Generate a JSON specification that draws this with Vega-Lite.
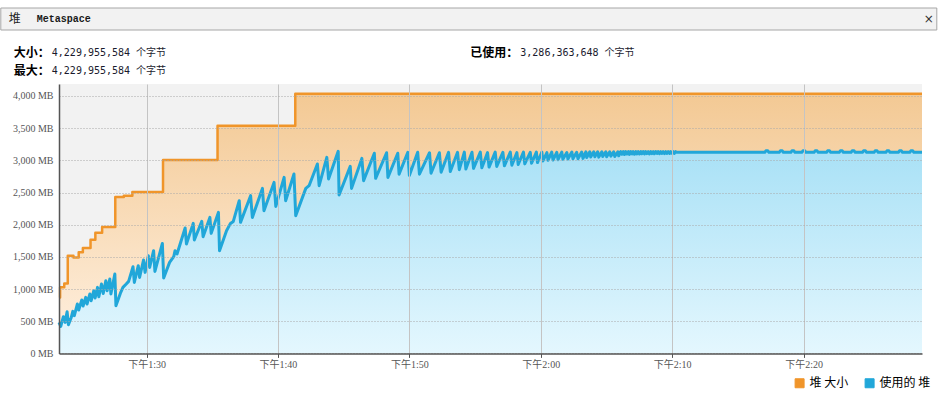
{
  "$schema": "https://vega.github.io/schema/vega-lite/v6.json",
  "background": "white",
  "padding": {"left": 0, "top": 7, "right": 0, "bottom": 0},
  "spacing": 4,
  "columns": 1,
  "align": "none",
  "resolve": {"scale": {"color": "independent"}, "legend": {"color": "independent"}},
  "config": {"view": {"stroke": null}},
  "datasets": {
    "tabs": [{"tab": "堆"}, {"tab": "Metaspace"}, {"tab": "×"}],
    "header": [
      {"col": "L", "row": "1", "label": "大小：", "value": "4,229,955,584 个字节"},
      {"col": "L", "row": "2", "label": "最大：", "value": "4,229,955,584 个字节"},
      {"col": "R", "row": "1", "label": "已使用：", "value": "3,286,363,648 个字节"}
    ],
    "heap": [
      {"t": "2023-05-10T13:23:20", "mb": 870},
      {"t": "2023-05-10T13:23:25", "mb": 1026},
      {"t": "2023-05-10T13:23:44", "mb": 1088},
      {"t": "2023-05-10T13:24:00", "mb": 1518},
      {"t": "2023-05-10T13:24:26", "mb": 1492},
      {"t": "2023-05-10T13:24:50", "mb": 1570},
      {"t": "2023-05-10T13:25:09", "mb": 1638},
      {"t": "2023-05-10T13:25:44", "mb": 1767},
      {"t": "2023-05-10T13:26:06", "mb": 1876},
      {"t": "2023-05-10T13:26:37", "mb": 1964},
      {"t": "2023-05-10T13:27:37", "mb": 2430},
      {"t": "2023-05-10T13:28:16", "mb": 2451},
      {"t": "2023-05-10T13:28:55", "mb": 2508},
      {"t": "2023-05-10T13:31:15", "mb": 3005},
      {"t": "2023-05-10T13:35:24", "mb": 3538},
      {"t": "2023-05-10T13:41:19", "mb": 4034},
      {"t": "2023-05-10T14:29:01", "mb": 4034}
    ],
    "used": [
      {"t": "2023-05-10T13:23:20", "mb": 482},
      {"t": "2023-05-10T13:23:28", "mb": 420},
      {"t": "2023-05-10T13:23:40", "mb": 570},
      {"t": "2023-05-10T13:23:48", "mb": 482},
      {"t": "2023-05-10T13:23:57", "mb": 648},
      {"t": "2023-05-10T13:24:03", "mb": 446},
      {"t": "2023-05-10T13:24:16", "mb": 559},
      {"t": "2023-05-10T13:24:23", "mb": 653},
      {"t": "2023-05-10T13:24:30", "mb": 586},
      {"t": "2023-05-10T13:24:44", "mb": 768},
      {"t": "2023-05-10T13:24:50", "mb": 674},
      {"t": "2023-05-10T13:25:04", "mb": 830},
      {"t": "2023-05-10T13:25:10", "mb": 737},
      {"t": "2023-05-10T13:25:22", "mb": 870},
      {"t": "2023-05-10T13:25:28", "mb": 768},
      {"t": "2023-05-10T13:25:41", "mb": 923},
      {"t": "2023-05-10T13:25:47", "mb": 819},
      {"t": "2023-05-10T13:25:59", "mb": 974},
      {"t": "2023-05-10T13:26:05", "mb": 861},
      {"t": "2023-05-10T13:26:16", "mb": 1026},
      {"t": "2023-05-10T13:26:22", "mb": 881},
      {"t": "2023-05-10T13:26:34", "mb": 1078},
      {"t": "2023-05-10T13:26:42", "mb": 932},
      {"t": "2023-05-10T13:26:54", "mb": 1130},
      {"t": "2023-05-10T13:27:00", "mb": 974},
      {"t": "2023-05-10T13:27:12", "mb": 1156},
      {"t": "2023-05-10T13:27:17", "mb": 923},
      {"t": "2023-05-10T13:27:35", "mb": 1234},
      {"t": "2023-05-10T13:27:40", "mb": 741},
      {"t": "2023-05-10T13:28:00", "mb": 932},
      {"t": "2023-05-10T13:28:12", "mb": 1026},
      {"t": "2023-05-10T13:28:27", "mb": 1078},
      {"t": "2023-05-10T13:28:38", "mb": 1119},
      {"t": "2023-05-10T13:28:58", "mb": 1347},
      {"t": "2023-05-10T13:29:04", "mb": 1103},
      {"t": "2023-05-10T13:29:22", "mb": 1363},
      {"t": "2023-05-10T13:29:28", "mb": 1181},
      {"t": "2023-05-10T13:29:46", "mb": 1451},
      {"t": "2023-05-10T13:29:53", "mb": 1259},
      {"t": "2023-05-10T13:30:08", "mb": 1518},
      {"t": "2023-05-10T13:30:14", "mb": 1336},
      {"t": "2023-05-10T13:30:32", "mb": 1596},
      {"t": "2023-05-10T13:30:38", "mb": 1274},
      {"t": "2023-05-10T13:31:12", "mb": 1709},
      {"t": "2023-05-10T13:31:18", "mb": 1172},
      {"t": "2023-05-10T13:31:45", "mb": 1414},
      {"t": "2023-05-10T13:32:04", "mb": 1503},
      {"t": "2023-05-10T13:32:10", "mb": 1596},
      {"t": "2023-05-10T13:32:19", "mb": 1545},
      {"t": "2023-05-10T13:32:56", "mb": 1949},
      {"t": "2023-05-10T13:33:02", "mb": 1700},
      {"t": "2023-05-10T13:33:33", "mb": 2020},
      {"t": "2023-05-10T13:33:38", "mb": 1762},
      {"t": "2023-05-10T13:34:12", "mb": 2051},
      {"t": "2023-05-10T13:34:18", "mb": 1814},
      {"t": "2023-05-10T13:34:49", "mb": 2113},
      {"t": "2023-05-10T13:34:55", "mb": 1865},
      {"t": "2023-05-10T13:35:28", "mb": 2191},
      {"t": "2023-05-10T13:35:33", "mb": 1596},
      {"t": "2023-05-10T13:36:05", "mb": 1907},
      {"t": "2023-05-10T13:36:23", "mb": 2020},
      {"t": "2023-05-10T13:36:36", "mb": 2051},
      {"t": "2023-05-10T13:37:03", "mb": 2373},
      {"t": "2023-05-10T13:37:09", "mb": 2036},
      {"t": "2023-05-10T13:37:55", "mb": 2451},
      {"t": "2023-05-10T13:38:03", "mb": 2113},
      {"t": "2023-05-10T13:38:49", "mb": 2564},
      {"t": "2023-05-10T13:38:56", "mb": 2218},
      {"t": "2023-05-10T13:39:42", "mb": 2657},
      {"t": "2023-05-10T13:39:50", "mb": 2284},
      {"t": "2023-05-10T13:40:28", "mb": 2735},
      {"t": "2023-05-10T13:40:35", "mb": 2373},
      {"t": "2023-05-10T13:41:13", "mb": 2788},
      {"t": "2023-05-10T13:41:21", "mb": 2140},
      {"t": "2023-05-10T13:42:07", "mb": 2564},
      {"t": "2023-05-10T13:42:22", "mb": 2606},
      {"t": "2023-05-10T13:43:00", "mb": 2943},
      {"t": "2023-05-10T13:43:08", "mb": 2606},
      {"t": "2023-05-10T13:43:43", "mb": 3046},
      {"t": "2023-05-10T13:43:51", "mb": 2710},
      {"t": "2023-05-10T13:44:35", "mb": 3140},
      {"t": "2023-05-10T13:44:39", "mb": 2461},
      {"t": "2023-05-10T13:45:30", "mb": 2906},
      {"t": "2023-05-10T13:45:36", "mb": 2564},
      {"t": "2023-05-10T13:46:23", "mb": 3030},
      {"t": "2023-05-10T13:46:31", "mb": 2684},
      {"t": "2023-05-10T13:47:20", "mb": 3110},
      {"t": "2023-05-10T13:47:26", "mb": 2720},
      {"t": "2023-05-10T13:48:16", "mb": 3118},
      {"t": "2023-05-10T13:48:22", "mb": 2735},
      {"t": "2023-05-10T13:49:07", "mb": 3110},
      {"t": "2023-05-10T13:49:13", "mb": 2785},
      {"t": "2023-05-10T13:49:53", "mb": 3125},
      {"t": "2023-05-10T13:50:00", "mb": 2765},
      {"t": "2023-05-10T13:50:38", "mb": 3125},
      {"t": "2023-05-10T13:50:46", "mb": 2785},
      {"t": "2023-05-10T13:51:32", "mb": 3118},
      {"t": "2023-05-10T13:51:39", "mb": 2800},
      {"t": "2023-05-10T13:52:17", "mb": 3118},
      {"t": "2023-05-10T13:52:25", "mb": 2815},
      {"t": "2023-05-10T13:52:59", "mb": 3125},
      {"t": "2023-05-10T13:53:07", "mb": 2825},
      {"t": "2023-05-10T13:53:40", "mb": 3125},
      {"t": "2023-05-10T13:53:48", "mb": 2855},
      {"t": "2023-05-10T13:54:11", "mb": 3128},
      {"t": "2023-05-10T13:54:18", "mb": 2865},
      {"t": "2023-05-10T13:54:46", "mb": 3125},
      {"t": "2023-05-10T13:54:53", "mb": 2875},
      {"t": "2023-05-10T13:55:24", "mb": 3128},
      {"t": "2023-05-10T13:55:31", "mb": 2885},
      {"t": "2023-05-10T13:55:57", "mb": 3120},
      {"t": "2023-05-10T13:56:04", "mb": 2895},
      {"t": "2023-05-10T13:56:32", "mb": 3128},
      {"t": "2023-05-10T13:56:39", "mb": 2905},
      {"t": "2023-05-10T13:57:07", "mb": 3125},
      {"t": "2023-05-10T13:57:14", "mb": 2915},
      {"t": "2023-05-10T13:57:41", "mb": 3128},
      {"t": "2023-05-10T13:57:48", "mb": 2925},
      {"t": "2023-05-10T13:58:11", "mb": 3120},
      {"t": "2023-05-10T13:58:17", "mb": 2935},
      {"t": "2023-05-10T13:58:41", "mb": 3128},
      {"t": "2023-05-10T13:58:47", "mb": 2945},
      {"t": "2023-05-10T13:59:12", "mb": 3125},
      {"t": "2023-05-10T13:59:18", "mb": 2955},
      {"t": "2023-05-10T13:59:40", "mb": 3128},
      {"t": "2023-05-10T13:59:45", "mb": 2965},
      {"t": "2023-05-10T14:00:05", "mb": 3128},
      {"t": "2023-05-10T14:00:10", "mb": 2990},
      {"t": "2023-05-10T14:00:28", "mb": 3120},
      {"t": "2023-05-10T14:00:33", "mb": 3000},
      {"t": "2023-05-10T14:00:50", "mb": 3128},
      {"t": "2023-05-10T14:00:56", "mb": 3005},
      {"t": "2023-05-10T14:01:13", "mb": 3124},
      {"t": "2023-05-10T14:01:19", "mb": 3010},
      {"t": "2023-05-10T14:01:36", "mb": 3128},
      {"t": "2023-05-10T14:01:41", "mb": 3015},
      {"t": "2023-05-10T14:01:59", "mb": 3120},
      {"t": "2023-05-10T14:02:04", "mb": 3020},
      {"t": "2023-05-10T14:02:22", "mb": 3128},
      {"t": "2023-05-10T14:02:27", "mb": 3025},
      {"t": "2023-05-10T14:02:44", "mb": 3124},
      {"t": "2023-05-10T14:02:50", "mb": 3025},
      {"t": "2023-05-10T14:03:07", "mb": 3128},
      {"t": "2023-05-10T14:03:13", "mb": 3030},
      {"t": "2023-05-10T14:03:26", "mb": 3132},
      {"t": "2023-05-10T14:03:30", "mb": 3045},
      {"t": "2023-05-10T14:03:44", "mb": 3132},
      {"t": "2023-05-10T14:03:48", "mb": 3050},
      {"t": "2023-05-10T14:04:02", "mb": 3132},
      {"t": "2023-05-10T14:04:07", "mb": 3055},
      {"t": "2023-05-10T14:04:20", "mb": 3132},
      {"t": "2023-05-10T14:04:25", "mb": 3050},
      {"t": "2023-05-10T14:04:39", "mb": 3132},
      {"t": "2023-05-10T14:04:43", "mb": 3060},
      {"t": "2023-05-10T14:04:57", "mb": 3132},
      {"t": "2023-05-10T14:05:01", "mb": 3055},
      {"t": "2023-05-10T14:05:15", "mb": 3132},
      {"t": "2023-05-10T14:05:20", "mb": 3065},
      {"t": "2023-05-10T14:05:33", "mb": 3132},
      {"t": "2023-05-10T14:05:38", "mb": 3060},
      {"t": "2023-05-10T14:05:52", "mb": 3132},
      {"t": "2023-05-10T14:05:56", "mb": 3070},
      {"t": "2023-05-10T14:06:05", "mb": 3135},
      {"t": "2023-05-10T14:06:11", "mb": 3095},
      {"t": "2023-05-10T14:06:17", "mb": 3135},
      {"t": "2023-05-10T14:06:22", "mb": 3090},
      {"t": "2023-05-10T14:06:28", "mb": 3135},
      {"t": "2023-05-10T14:06:34", "mb": 3098},
      {"t": "2023-05-10T14:06:40", "mb": 3135},
      {"t": "2023-05-10T14:06:45", "mb": 3092},
      {"t": "2023-05-10T14:06:51", "mb": 3135},
      {"t": "2023-05-10T14:06:57", "mb": 3100},
      {"t": "2023-05-10T14:07:02", "mb": 3135},
      {"t": "2023-05-10T14:07:08", "mb": 3095},
      {"t": "2023-05-10T14:07:14", "mb": 3135},
      {"t": "2023-05-10T14:07:19", "mb": 3100},
      {"t": "2023-05-10T14:07:25", "mb": 3135},
      {"t": "2023-05-10T14:07:31", "mb": 3098},
      {"t": "2023-05-10T14:07:37", "mb": 3135},
      {"t": "2023-05-10T14:07:42", "mb": 3102},
      {"t": "2023-05-10T14:07:48", "mb": 3135},
      {"t": "2023-05-10T14:07:54", "mb": 3100},
      {"t": "2023-05-10T14:07:59", "mb": 3135},
      {"t": "2023-05-10T14:08:05", "mb": 3105},
      {"t": "2023-05-10T14:08:11", "mb": 3135},
      {"t": "2023-05-10T14:08:16", "mb": 3100},
      {"t": "2023-05-10T14:08:22", "mb": 3135},
      {"t": "2023-05-10T14:08:28", "mb": 3105},
      {"t": "2023-05-10T14:08:34", "mb": 3135},
      {"t": "2023-05-10T14:08:39", "mb": 3102},
      {"t": "2023-05-10T14:08:45", "mb": 3135},
      {"t": "2023-05-10T14:08:51", "mb": 3106},
      {"t": "2023-05-10T14:08:56", "mb": 3135},
      {"t": "2023-05-10T14:09:02", "mb": 3104},
      {"t": "2023-05-10T14:09:08", "mb": 3135},
      {"t": "2023-05-10T14:09:13", "mb": 3108},
      {"t": "2023-05-10T14:09:19", "mb": 3135},
      {"t": "2023-05-10T14:09:25", "mb": 3105},
      {"t": "2023-05-10T14:09:31", "mb": 3135},
      {"t": "2023-05-10T14:09:36", "mb": 3108},
      {"t": "2023-05-10T14:09:42", "mb": 3135},
      {"t": "2023-05-10T14:09:48", "mb": 3106},
      {"t": "2023-05-10T14:09:53", "mb": 3135},
      {"t": "2023-05-10T14:09:59", "mb": 3110},
      {"t": "2023-05-10T14:10:05", "mb": 3135},
      {"t": "2023-05-10T14:10:10", "mb": 3108},
      {"t": "2023-05-10T14:10:16", "mb": 3135},
      {"t": "2023-05-10T14:10:19", "mb": 3125},
      {"t": "2023-05-10T14:17:03", "mb": 3125},
      {"t": "2023-05-10T14:17:08", "mb": 3148},
      {"t": "2023-05-10T14:17:17", "mb": 3148},
      {"t": "2023-05-10T14:17:22", "mb": 3125},
      {"t": "2023-05-10T14:18:09", "mb": 3125},
      {"t": "2023-05-10T14:18:14", "mb": 3148},
      {"t": "2023-05-10T14:18:23", "mb": 3148},
      {"t": "2023-05-10T14:18:28", "mb": 3125},
      {"t": "2023-05-10T14:19:02", "mb": 3125},
      {"t": "2023-05-10T14:19:07", "mb": 3148},
      {"t": "2023-05-10T14:19:16", "mb": 3148},
      {"t": "2023-05-10T14:19:21", "mb": 3125},
      {"t": "2023-05-10T14:19:52", "mb": 3125},
      {"t": "2023-05-10T14:19:57", "mb": 3148},
      {"t": "2023-05-10T14:20:06", "mb": 3148},
      {"t": "2023-05-10T14:20:11", "mb": 3125},
      {"t": "2023-05-10T14:20:48", "mb": 3125},
      {"t": "2023-05-10T14:20:53", "mb": 3148},
      {"t": "2023-05-10T14:21:02", "mb": 3148},
      {"t": "2023-05-10T14:21:07", "mb": 3125},
      {"t": "2023-05-10T14:21:45", "mb": 3125},
      {"t": "2023-05-10T14:21:50", "mb": 3148},
      {"t": "2023-05-10T14:21:59", "mb": 3148},
      {"t": "2023-05-10T14:22:04", "mb": 3125},
      {"t": "2023-05-10T14:22:43", "mb": 3125},
      {"t": "2023-05-10T14:22:48", "mb": 3148},
      {"t": "2023-05-10T14:22:57", "mb": 3148},
      {"t": "2023-05-10T14:23:02", "mb": 3125},
      {"t": "2023-05-10T14:23:37", "mb": 3125},
      {"t": "2023-05-10T14:23:42", "mb": 3148},
      {"t": "2023-05-10T14:23:51", "mb": 3148},
      {"t": "2023-05-10T14:23:56", "mb": 3125},
      {"t": "2023-05-10T14:24:29", "mb": 3125},
      {"t": "2023-05-10T14:24:34", "mb": 3148},
      {"t": "2023-05-10T14:24:43", "mb": 3148},
      {"t": "2023-05-10T14:24:48", "mb": 3125},
      {"t": "2023-05-10T14:25:22", "mb": 3125},
      {"t": "2023-05-10T14:25:27", "mb": 3148},
      {"t": "2023-05-10T14:25:36", "mb": 3148},
      {"t": "2023-05-10T14:25:41", "mb": 3125},
      {"t": "2023-05-10T14:26:16", "mb": 3125},
      {"t": "2023-05-10T14:26:21", "mb": 3148},
      {"t": "2023-05-10T14:26:30", "mb": 3148},
      {"t": "2023-05-10T14:26:35", "mb": 3125},
      {"t": "2023-05-10T14:27:13", "mb": 3125},
      {"t": "2023-05-10T14:27:18", "mb": 3148},
      {"t": "2023-05-10T14:27:27", "mb": 3148},
      {"t": "2023-05-10T14:27:32", "mb": 3125},
      {"t": "2023-05-10T14:28:05", "mb": 3125},
      {"t": "2023-05-10T14:28:10", "mb": 3148},
      {"t": "2023-05-10T14:28:19", "mb": 3148},
      {"t": "2023-05-10T14:28:24", "mb": 3125},
      {"t": "2023-05-10T14:29:01", "mb": 3125}
    ]
  },
  "concat": [
    {
      "width": 936,
      "height": 22,
      "data": {"name": "tabs"},
      "layer": [
        {
          "transform": [{"filter": "datum.tab === '堆'"}],
          "mark": {"type": "rect", "fill": "#f2f2f2", "stroke": "#a6a6a6", "strokeWidth": 1},
          "encoding": {
            "x": {"datum": 0, "type": "quantitative", "scale": {"domain": [0, 936], "range": [-58.2, 877.8], "nice": false, "zero": false}, "axis": null},
            "x2": {"datum": 936}
          }
        },
        {
          "transform": [{"filter": "datum.tab === '堆'"}],
          "mark": {"type": "text", "align": "center", "baseline": "middle", "font": "Noto Sans CJK SC", "fontSize": 12, "color": "#222222"},
          "encoding": {"x": {"datum": 14, "type": "quantitative"}, "text": {"field": "tab"}}
        },
        {
          "transform": [{"filter": "datum.tab === 'Metaspace'"}],
          "mark": {"type": "text", "align": "left", "baseline": "middle", "font": "Liberation Mono", "fontSize": 10, "fontWeight": "bold", "color": "#1a1a1a"},
          "encoding": {"x": {"datum": 36, "type": "quantitative"}, "text": {"field": "tab"}}
        },
        {
          "transform": [{"filter": "datum.tab === '×'"}],
          "mark": {"type": "text", "align": "center", "baseline": "middle", "font": "DejaVu Sans", "fontSize": 12, "color": "#333333"},
          "encoding": {"x": {"datum": 928, "type": "quantitative"}, "text": {"field": "tab"}}
        }
      ]
    },
    {
      "width": 936,
      "height": 44.5,
      "data": {"name": "header"},
      "encoding": {
        "x": {"field": "col", "type": "nominal", "scale": {"type": "point", "padding": 0, "domain": ["L", "R"], "range": [-9.2, 459.3]}, "axis": null},
        "y": {"field": "row", "type": "nominal", "scale": {"type": "point", "padding": 0, "domain": ["1", "2"], "range": [18, 36.2]}, "axis": null}
      },
      "layer": [
        {
          "mark": {"type": "text", "align": "right", "baseline": "middle", "font": "Noto Sans CJK SC", "fontSize": 12, "fontWeight": "bold", "color": "#000000"},
          "encoding": {"text": {"field": "label"}}
        },
        {
          "mark": {"type": "text", "align": "left", "baseline": "middle", "dx": 2, "font": "DejaVu Sans Mono, Noto Sans CJK SC", "fontSize": 10, "color": "#1a1a2e"},
          "encoding": {"text": {"field": "value"}}
        }
      ]
    },
    {
      "width": 863,
      "height": 269.4,
      "view": {"fill": "#f2f2f2", "stroke": null},
      "encoding": {
        "x": {
          "field": "t", "type": "temporal",
          "scale": {"domain": [
            {"year": 2023, "month": 5, "date": 10, "hours": 13, "minutes": 23, "seconds": 20},
            {"year": 2023, "month": 5, "date": 10, "hours": 14, "minutes": 29, "seconds": 1}
          ]},
          "axis": {
            "title": null, "zindex": 1,
            "values": [
              {"year": 2023, "month": 5, "date": 10, "hours": 13, "minutes": 30},
              {"year": 2023, "month": 5, "date": 10, "hours": 13, "minutes": 40},
              {"year": 2023, "month": 5, "date": 10, "hours": 13, "minutes": 50},
              {"year": 2023, "month": 5, "date": 10, "hours": 14, "minutes": 0},
              {"year": 2023, "month": 5, "date": 10, "hours": 14, "minutes": 10},
              {"year": 2023, "month": 5, "date": 10, "hours": 14, "minutes": 20}
            ],
            "labelExpr": "'下午' + (hours(datum.value) - 12) + ':' + timeFormat(datum.value, '%M')",
            "labelFont": "Liberation Serif, Noto Sans CJK SC", "labelFontSize": 10, "labelColor": "#555555",
            "labelPadding": 2, "labelFlush": false,
            "tickSize": 4, "tickColor": "#555555",
            "domainColor": "#555555", "domainWidth": 1.5,
            "grid": true, "gridColor": "#c4c4c4", "gridWidth": 1
          }
        },
        "y": {
          "field": "mb", "type": "quantitative",
          "scale": {"domain": [0, 4186], "nice": false},
          "axis": {
            "title": null, "zindex": 1,
            "values": [0, 500, 1000, 1500, 2000, 2500, 3000, 3500, 4000],
            "labelExpr": "format(datum.value, ',') + ' MB'",
            "labelFont": "Liberation Serif", "labelFontSize": 10, "labelColor": "#555555",
            "labelPadding": 6, "ticks": false,
            "domainColor": "#555555", "domainWidth": 1.5,
            "grid": true, "gridColor": "#a8a8a8", "gridDash": [1, 2], "gridWidth": 1,
            "minExtent": 58.7, "maxExtent": 58.7
          }
        }
      },
      "layer": [
        {
          "data": {"name": "heap"},
          "mark": {
            "type": "area", "interpolate": "step-after",
            "color": {"gradient": "linear", "x1": 0, "y1": 0, "x2": 0, "y2": 1,
              "stops": [{"offset": 0, "color": "#f3c994"}, {"offset": 1, "color": "#fff1e2"}]}
          }
        },
        {
          "data": {"name": "used"},
          "mark": {
            "type": "area", "interpolate": "linear",
            "color": {"gradient": "linear", "x1": 0, "y1": 0, "x2": 0, "y2": 1,
              "stops": [{"offset": 0, "color": "#a9e1f6"}, {"offset": 1, "color": "#e4f7fe"}]}
          }
        },
        {
          "data": {"name": "heap"},
          "mark": {"type": "line", "interpolate": "step-after", "strokeWidth": 2.5, "strokeJoin": "round"},
          "encoding": {
            "color": {
              "datum": "堆 大小", "type": "nominal",
              "scale": {"domain": ["堆 大小", "使用的 堆"], "range": ["#f0952a", "#21a7d9"]},
              "legend": {
                "title": null, "orient": "none", "direction": "horizontal",
                "legendX": 734.6, "legendY": 293,
                "symbolType": "square", "symbolSize": 81,
                "labelFont": "Noto Sans CJK SC", "labelFontSize": 12, "labelColor": "#000000",
                "labelOffset": 4, "columnPadding": 14,
                "encode": {"symbols": {"update": {
                  "fill": {"signal": "datum.value === '堆 大小' ? '#f0952a' : '#21a7d9'"},
                  "stroke": {"value": "#333333"},
                  "strokeWidth": {"value": 1},
                  "opacity": {"value": 1}
                }}}
              }
            }
          }
        },
        {
          "data": {"name": "used"},
          "mark": {"type": "line", "interpolate": "linear", "strokeWidth": 3, "strokeJoin": "round"},
          "encoding": {"color": {"datum": "使用的 堆", "type": "nominal"}}
        }
      ]
    }
  ]
}
